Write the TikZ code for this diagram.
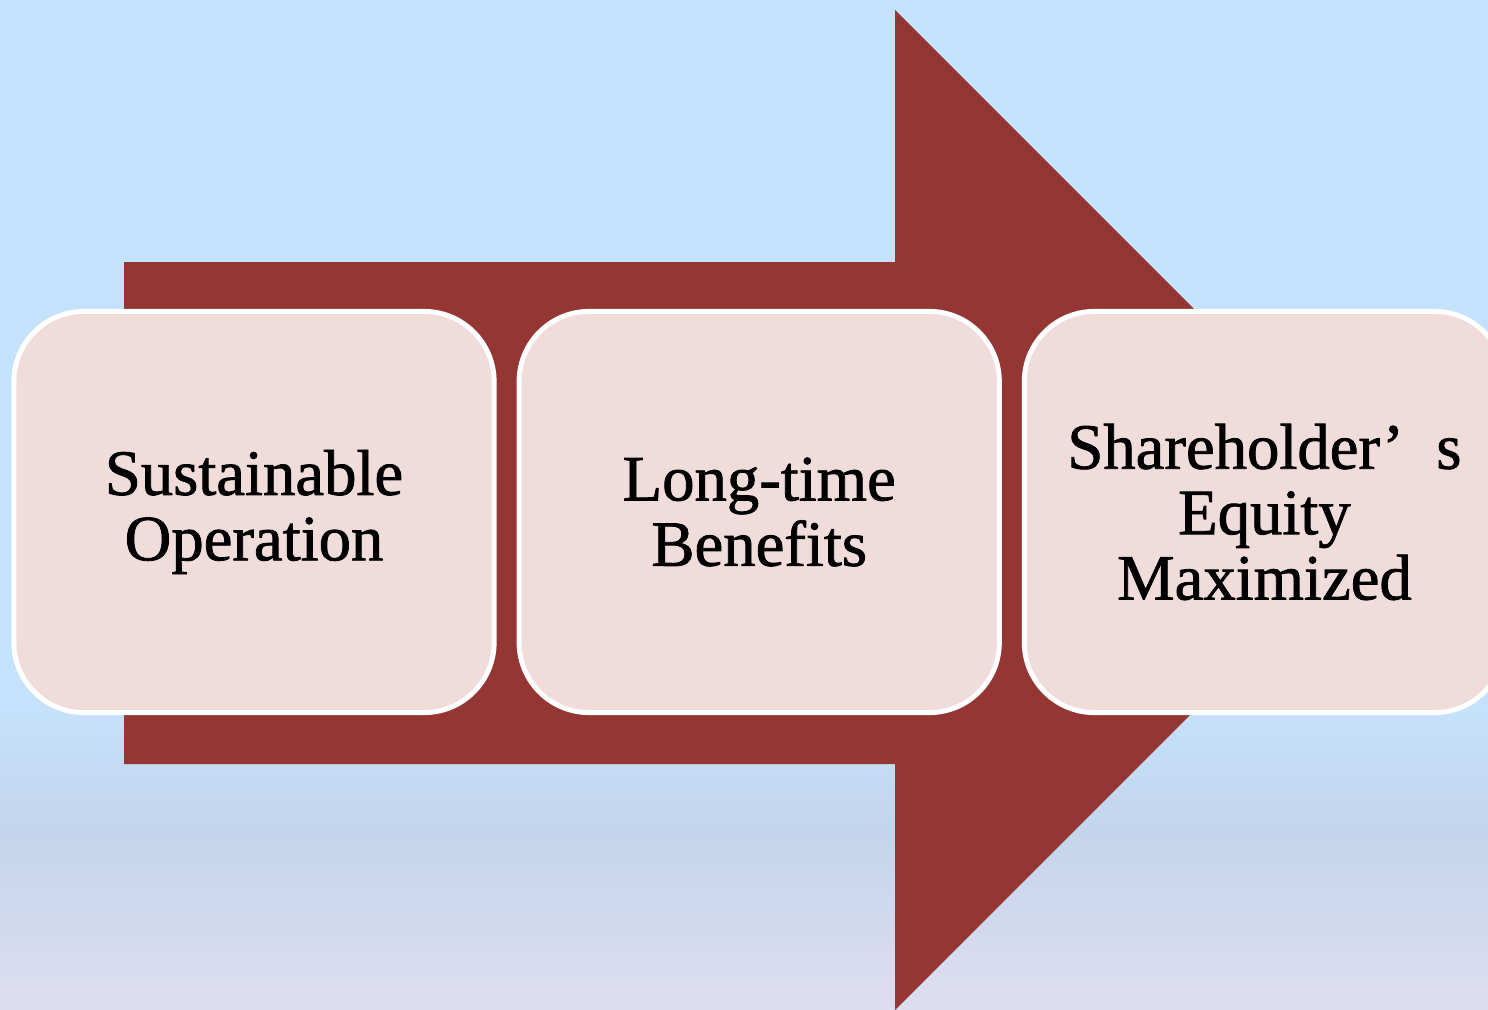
\documentclass[tikz,border=0pt]{standalone}
\usepackage{fontspec}
\usepackage{xcolor}
\usetikzlibrary{positioning}
\newfontfamily\boxfont[FakeBold=1.2]{Liberation Serif}
\definecolor{skytop}{RGB}{197,226,252}
\definecolor{skymid}{RGB}{195,213,236}
\definecolor{skybot}{RGB}{222,221,240}
\definecolor{arrowred}{RGB}{148,54,52}
\definecolor{boxpink}{RGB}{241,220,220}

\begin{document}
\begin{tikzpicture}[
		x=0.01cm, y=-0.01cm,
		stepbox/.style={rectangle, rounded corners=0.7cm, draw=white, line width=1.4pt,
			fill=boxpink, minimum width=4.8cm, minimum height=4.01cm, align=center,
			font=\boxfont\fontsize{18.4}{18.6}\selectfont},
		]

		% fond
		\useasboundingbox (0,0) rectangle (1488,1009);
		\clip (0,0) rectangle (1488,1009);
		\fill[skytop] (0,0) rectangle (1488,702);
		\fill[top color=skytop, bottom color=skymid] (0,700) rectangle (1488,832);
		\fill[top color=skymid, bottom color=skybot] (0,830) rectangle (1488,1009);

		% fleche
		\fill[arrowred] (124,262) -- (895,262) -- (895,10) -- (1395,510)
			-- (895,1010) -- (895,764) -- (124,764) -- cycle;

		% etapes
		\node[stepbox] (B1) at (254,512) {Sustainable\\Operation};
		\node[stepbox, right=0.2cm of B1] (B2) {Long-time\\Benefits};
		\node[stepbox, right=0.2cm of B2] (B3) {Shareholder’ \ s\\Equity\\Maximized};
	\end{tikzpicture}
\end{document}
